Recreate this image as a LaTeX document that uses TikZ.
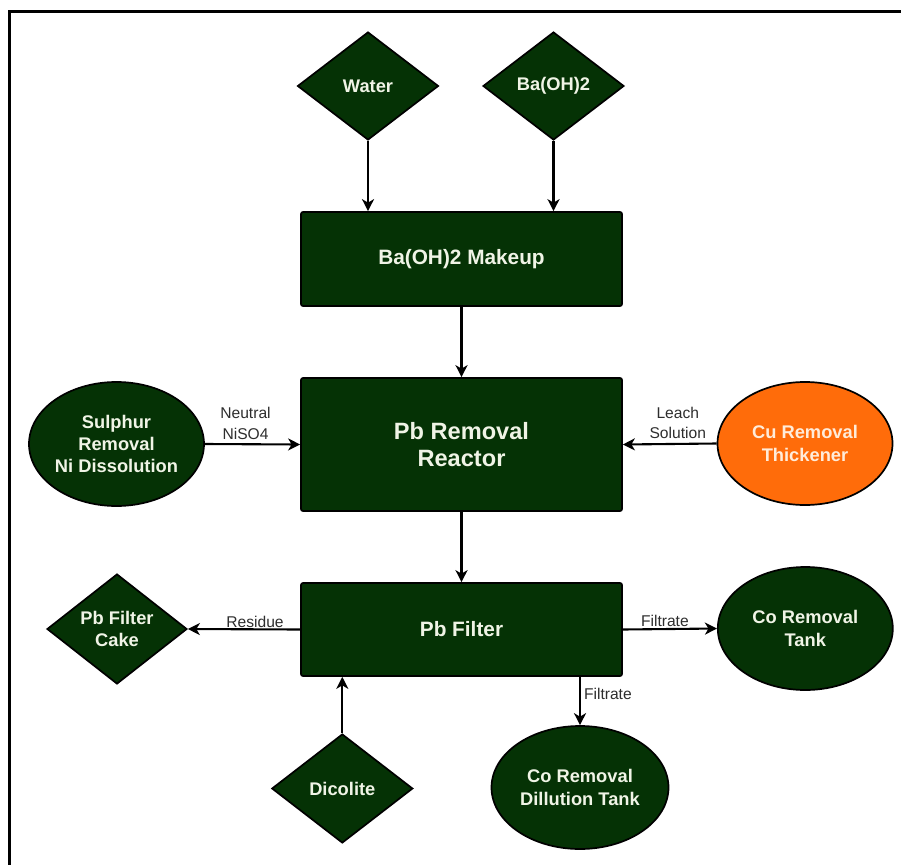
\documentclass[tikz,border=0pt]{standalone}
\usepackage{fontspec}
\setmainfont{Liberation Sans}
\usetikzlibrary{shapes.geometric,arrows.meta}
\definecolor{procgreen}{RGB}{5,50,5}
\definecolor{procorange}{RGB}{255,108,10}
\definecolor{boxtext}{RGB}{240,244,230}
\definecolor{orangetext}{RGB}{255,236,218}
\definecolor{lbltext}{RGB}{45,45,45}
\begin{document}
\begin{tikzpicture}[x=1pt,y=-1pt,
  unit/.style={draw=black, line width=1.7pt, fill=procgreen, text=boxtext,
    font=\bfseries\fontsize{18.3}{22.3}\selectfont, align=center, inner sep=0pt},
  procbox/.style={unit, rectangle, rounded corners=2pt, minimum width=321pt},
  feed/.style={unit, diamond, aspect=1.3},
  tank/.style={unit, ellipse},
  flow/.style={draw=black, line width=2.1pt, -{Stealth[length=12pt,width=12pt,inset=3.5pt]}},
  lbl/.style={text=lbltext, font=\fontsize{15.6}{20.5}\selectfont, align=center, inner sep=1pt}]
\useasboundingbox (0,0) rectangle (901,864);
% outer frame
\draw[line width=2.8pt, black] (9.3,11.7) rectangle (910,880);

% feeds at the top
\node[feed, minimum width=141pt, minimum height=108pt] (water) at (368,86) {Water};
\node[feed, minimum width=141pt, minimum height=108pt] (baoh) at (553.5,86) {Ba(OH)2};

% main process train
\node[procbox, minimum height=94pt, font=\bfseries\fontsize{20.8}{25}\selectfont] (makeup) at (461.5,259) {Ba(OH)2 Makeup};
\node[procbox, minimum height=133pt, font=\bfseries\fontsize{23.6}{27.7}\selectfont] (reactor) at (461.5,444.5) {Pb Removal\\Reactor};
\node[procbox, minimum height=93pt, font=\bfseries\fontsize{20.8}{25}\selectfont] (filter) at (461.5,629.5) {Pb Filter};

% side streams
\node[tank, minimum width=175pt, minimum height=124pt] (sulphur) at (116.5,444) {Sulphur\\Removal\\Ni Dissolution};
\node[tank, fill=procorange, text=orangetext, minimum width=175pt, minimum height=123pt] (cu) at (805,443.5) {Cu Removal\\Thickener};
\node[feed, minimum width=140pt, minimum height=110pt] (cake) at (117,629) {Pb Filter\\Cake};
\node[feed, minimum width=141pt, minimum height=109pt] (dicolite) at (342.3,788.5) {Dicolite};
\node[tank, minimum width=175pt, minimum height=123pt] (cotank) at (805.3,628.5) {Co Removal\\Tank};
\node[tank, minimum width=177pt, minimum height=123pt] (codil) at (580,787.5) {Co Removal\\Dillution Tank};

% connectors
\draw[flow] (water.south) -- (water.south |- makeup.north);
\draw[flow] (baoh.south) -- (baoh.south |- makeup.north);
\draw[flow] (makeup.south) -- (reactor.north);
\draw[flow] (sulphur.east) -- node[lbl, above=3pt, xshift=-7pt] {Neutral\\NiSO4} (reactor.west);
\draw[flow] (cu.west) -- node[lbl, above=3pt, xshift=8pt] {Leach\\Solution} (reactor.east);
\draw[flow] (reactor.south) -- (filter.north);
\draw[flow] (filter.west) -- node[lbl, above=0pt, xshift=11pt] {Residue} (cake.east);
\draw[flow] (filter.east) -- node[lbl, above=0pt, xshift=-5pt] {Filtrate} (cotank.west);
\draw[flow] (dicolite.north) -- (dicolite.north |- filter.south);
\draw[flow] (codil.north |- filter.south) -- node[lbl, right=2pt, yshift=7pt] {Filtrate} (codil.north);
\end{tikzpicture}
\end{document}
